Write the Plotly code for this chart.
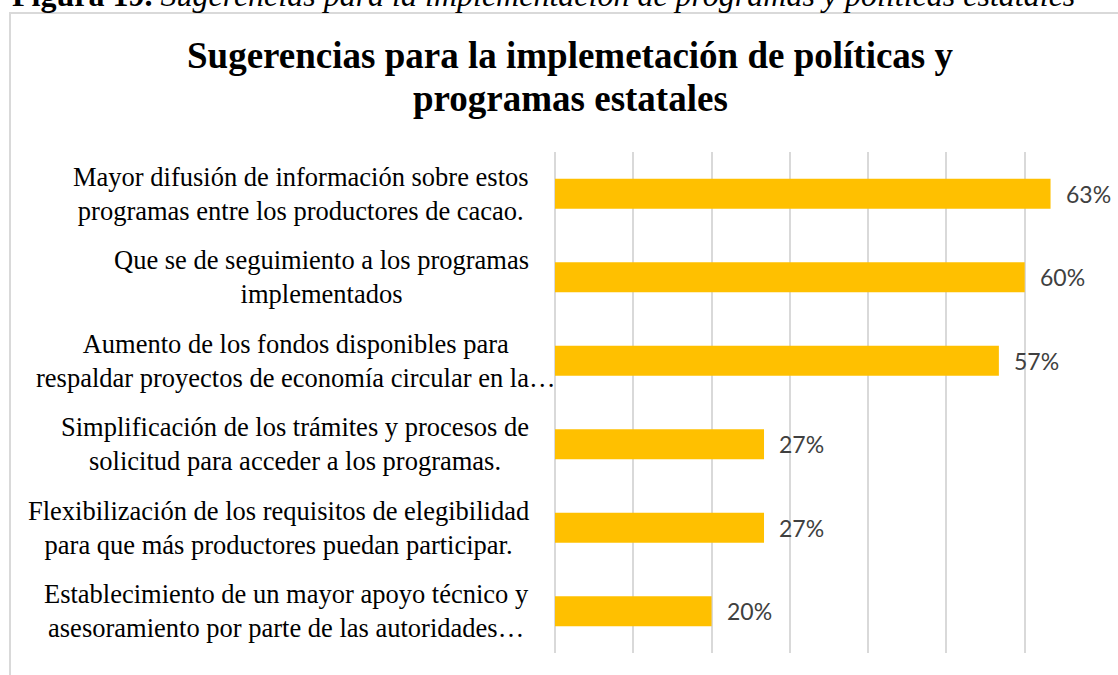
import plotly.graph_objects as go

# ---------------- data ----------------
categories = [
    "Mayor difusión de información sobre estos<br>programas entre los productores de cacao.",
    "Que se de seguimiento a los programas<br>implementados",
    "Aumento de los fondos disponibles para<br>respaldar proyectos de economía circular en la…",
    "Simplificación de los trámites y procesos de<br>solicitud para acceder a los programas.",
    "Flexibilización de los requisitos de elegibilidad<br>para que más productores puedan participar.",
    "Establecimiento de un mayor apoyo técnico y<br>asesoramiento por parte de las autoridades…",
]
values = [0.633, 0.600, 0.567, 0.267, 0.267, 0.200]
value_labels = [f"{v:.0%}" for v in values]

title_lines = ["Sugerencias para la implemetación de políticas y", "programas estatales"]
caption_bold = "Figura 19."
caption_italic = "Sugerencias para la implementación de programas y políticas estatales"

# ---------------- layout geometry ----------------
W, H = 1118, 675
ML, MR, MT, MB = 555, 15, 152, 22
PW, PH = W - ML - MR, H - MT - MB


def px_x(p):
    return (p - ML) / PW


def px_y(p):
    return (H - MB - p) / PH


SERIF = "Liberation Serif, Times New Roman, serif"
BAR_COLOR = "#FFC000"
GRID = "#D9D9D9"

fig = go.Figure()
fig.add_trace(go.Bar(
    x=values,
    y=categories,
    orientation="h",
    marker=dict(color=BAR_COLOR, line=dict(width=0)),
    hoverinfo="skip",
))

annotations = []
# category labels (centered lines, right-aligned block)
extra_shift = {2: 26}
for i, (cat, v) in enumerate(zip(categories, values)):
    annotations.append(dict(
        x=0, y=cat, xref="x", yref="y",
        text=cat, showarrow=False,
        xanchor="right", yanchor="middle", align="center",
        xshift=-24 + extra_shift.get(i, 0),
        font=dict(family=SERIF, size=26.5, color="#000000"),
    ))
    annotations.append(dict(
        x=v, y=cat, xref="x", yref="y",
        text=value_labels[i], showarrow=False,
        xanchor="left", yanchor="middle", xshift=13,
        font=dict(family="Lato, Open Sans, sans-serif", size=23, color="#404040"),
    ))

# title, one annotation per line (tighter line spacing like the reference)
title_bottoms = [78, 121]
for line, yb in zip(title_lines, title_bottoms):
    annotations.append(dict(
        x=px_x(570), y=px_y(yb), xref="paper", yref="paper",
        text=f"<b>{line}</b>", showarrow=False,
        xanchor="center", yanchor="bottom", align="center",
        font=dict(family=SERIF, size=37, color="#000000"),
    ))
# caption (cut off at the top of the page, as in the reference)
annotations.append(dict(
    x=px_x(10), y=px_y(15), xref="paper", yref="paper",
    text=f"<b>{caption_bold}</b> <i>{caption_italic}</i>", showarrow=False,
    xanchor="left", yanchor="bottom", align="left",
    font=dict(family=SERIF, size=32, color="#000000"),
))

fig.update_layout(
    width=W, height=H,
    margin=dict(l=ML, r=MR, t=MT, b=MB, pad=0),
    paper_bgcolor="white", plot_bgcolor="white",
    showlegend=False,
    bargap=0.64,
    annotations=annotations,
    shapes=[dict(
        type="rect", xref="paper", yref="paper",
        x0=px_x(10), x1=px_x(1135), y0=px_y(13), y1=px_y(700),
        line=dict(color=GRID, width=2), fillcolor="rgba(0,0,0,0)", layer="below",
    )],
    xaxis=dict(
        range=[0, 0.7], dtick=0.1, tick0=0,
        showgrid=True, gridcolor=GRID, gridwidth=1.5,
        zeroline=True, zerolinecolor=GRID, zerolinewidth=1.5,
        showticklabels=False, ticks="", showline=False, fixedrange=True,
    ),
    yaxis=dict(
        autorange="reversed", showticklabels=False, ticks="",
        showgrid=False, zeroline=False, showline=False, fixedrange=True,
    ),
)

fig.write_html(
    "out.html",
    config={"displayModeBar": False},
    post_script="document.body.style.margin='0';document.body.style.overflow='hidden';",
)
